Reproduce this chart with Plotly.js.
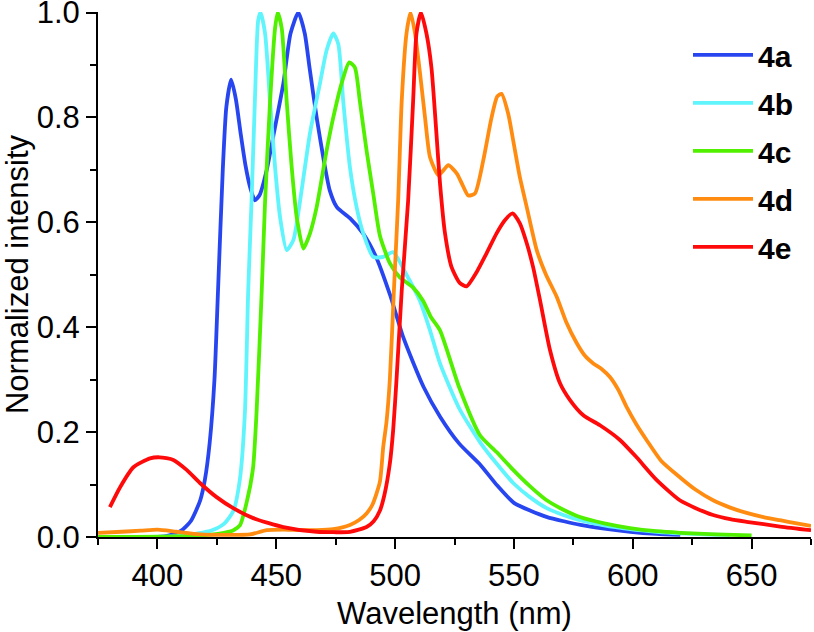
<!DOCTYPE html>
<html>
<head>
<meta charset="utf-8">
<script src="https://cdn.plot.ly/plotly-3.0.1.min.js"></script>
<style>
  body { margin: 0; background: #fff; }
  #plot { width: 814px; height: 632px; }
</style>
</head>
<body>
<div id="plot"></div>
<script>
// emission spectra (wavelength nm / normalized intensity)
var names = ['4a', '4b', '4c', '4d', '4e'];
var colors = ['#2846f0', '#60f4fc', '#50f000', '#ff8c10', '#ff0a0a'];

var x4a = [375, 400, 405, 410, 414, 418, 420, 422, 424, 425.5, 427.5, 429, 431, 433, 435, 437, 439, 441, 443, 446, 449, 453, 456, 459.3, 462, 464, 467, 470, 472.5, 475.5, 481, 486.5, 492, 498, 503.5, 512, 519, 527, 536, 543, 550, 557, 564, 571, 578, 588, 599, 610, 620];
var y4a = [0, 0, 0.003, 0.012, 0.03, 0.07, 0.11, 0.18, 0.30, 0.47, 0.70, 0.82, 0.872, 0.835, 0.77, 0.71, 0.667, 0.642, 0.652, 0.70, 0.77, 0.865, 0.96, 1.0, 0.96, 0.895, 0.80, 0.718, 0.661, 0.629, 0.608, 0.579, 0.534, 0.46, 0.38, 0.286, 0.229, 0.178, 0.137, 0.098, 0.065, 0.05, 0.038, 0.03, 0.023, 0.016, 0.01, 0.006, 0.004];

var x4b = [375, 410, 423, 428, 432, 434.7, 436.8, 438.2, 439.6, 441, 442.4, 443.4, 445.3, 447.4, 449.5, 451.6, 454.4, 457.2, 460, 464.2, 468.4, 471.2, 474, 476.1, 478.2, 481, 483.8, 486.6, 490.8, 495, 499.2, 504.8, 510.4, 514.7, 518.9, 527, 535.7, 542.7, 549.7, 556.7, 563.8, 570.8, 577.8, 588, 598.8, 610, 620, 630, 641];
var y4b = [0, 0.002, 0.013, 0.025, 0.05, 0.11, 0.236, 0.47, 0.64, 0.83, 0.985, 1.0, 0.96, 0.83, 0.705, 0.61, 0.547, 0.566, 0.64, 0.77, 0.865, 0.928, 0.96, 0.94, 0.83, 0.705, 0.629, 0.579, 0.534, 0.534, 0.543, 0.50, 0.451, 0.394, 0.331, 0.245, 0.181, 0.14, 0.103, 0.076, 0.055, 0.042, 0.032, 0.022, 0.015, 0.01, 0.007, 0.005, 0.004];

var x4c = [375, 415, 428, 432, 434.7, 437.5, 440.2, 441.7, 443.9, 445.3, 447.4, 449.5, 450.6, 452.3, 454.4, 456.5, 458.6, 461.4, 464.2, 467, 471.2, 474, 477.5, 480.7, 483.1, 485.2, 488, 490.8, 493.6, 497.8, 502, 507.5, 511.7, 515, 518.9, 527, 535.7, 542.7, 549.7, 556.7, 563.8, 570.8, 577.8, 588, 598.8, 610, 620, 635, 650];
var y4c = [0, 0.002, 0.008, 0.013, 0.022, 0.065, 0.13, 0.236, 0.47, 0.64, 0.83, 0.97, 1.0, 0.97, 0.83, 0.705, 0.61, 0.55, 0.579, 0.629, 0.737, 0.80, 0.865, 0.905, 0.895, 0.83, 0.737, 0.655, 0.575, 0.522, 0.495, 0.476, 0.451, 0.42, 0.394, 0.285, 0.194, 0.162, 0.128, 0.097, 0.07, 0.052, 0.038, 0.026, 0.017, 0.011, 0.008, 0.005, 0.003];

var x4d = [375, 385, 393, 400, 408, 418, 430, 439, 446, 453, 460, 467, 474, 481, 485, 488, 490.5, 493.6, 495, 496.4, 497.8, 499.5, 501.3, 502.8, 504.8, 506.5, 508.4, 510.5, 512.6, 514.7, 518.2, 520.5, 522.4, 526, 528.5, 530.8, 533.6, 537.1, 540.6, 543, 544.8, 547.6, 549.7, 552.5, 555.4, 559.6, 563.5, 568, 572, 576.4, 580, 583.4, 587, 590.4, 594, 597.4, 601.5, 605.8, 612, 619.8, 626.5, 633.8, 641, 647.9, 655, 661.9, 669, 675];
var y4d = [0.008, 0.01, 0.012, 0.014, 0.01, 0.005, 0.004, 0.005, 0.013, 0.014, 0.013, 0.013, 0.015, 0.023, 0.033, 0.045, 0.062, 0.105, 0.171, 0.22, 0.30, 0.47, 0.642, 0.832, 0.96, 1.0, 0.96, 0.884, 0.80, 0.724, 0.69, 0.70, 0.709, 0.693, 0.67, 0.651, 0.655, 0.718, 0.80, 0.84, 0.845, 0.807, 0.756, 0.686, 0.629, 0.547, 0.50, 0.458, 0.41, 0.37, 0.345, 0.331, 0.32, 0.305, 0.28, 0.248, 0.215, 0.185, 0.145, 0.114, 0.09, 0.07, 0.056, 0.046, 0.038, 0.032, 0.026, 0.021];

var x4e = [380, 384.3, 389.9, 396.9, 401, 406.7, 412.3, 417.9, 424.9, 431.9, 440.3, 453, 467, 481, 488, 491, 493.6, 495.5, 497.8, 499.2, 500.6, 502.8, 505.5, 507.6, 509, 510.9, 513.2, 515.3, 517.4, 518.9, 521, 523.8, 527.3, 530.1, 534.3, 538.5, 542.7, 546.2, 549.4, 552.5, 555.4, 558.1, 561, 565.2, 569.4, 573.6, 579.2, 586.2, 594.6, 601.6, 610, 619.8, 626.5, 633.8, 641, 647.9, 662, 675];
var y4e = [0.057, 0.095, 0.133, 0.15, 0.152, 0.147, 0.128, 0.103, 0.076, 0.055, 0.036, 0.019, 0.01, 0.01, 0.019, 0.03, 0.05, 0.08, 0.14, 0.204, 0.30, 0.47, 0.642, 0.832, 0.96, 1.0, 0.96, 0.895, 0.769, 0.674, 0.579, 0.514, 0.484, 0.478, 0.505, 0.541, 0.579, 0.604, 0.617, 0.598, 0.56, 0.514, 0.451, 0.356, 0.293, 0.261, 0.232, 0.213, 0.185, 0.152, 0.109, 0.07, 0.055, 0.042, 0.034, 0.029, 0.02, 0.013];

var xs = [x4a, x4b, x4c, x4d, x4e];
var ys = [y4a, y4b, y4c, y4d, y4e];

var fontFam = '"Liberation Sans", Arial, sans-serif';

var traces = [];
for (var i = 0; i < names.length; i++) {
  traces.push({
    x: xs[i],
    y: ys[i],
    name: names[i],
    legendgroup: names[i],
    type: 'scatter',
    mode: 'lines',
    line: {color: colors[i], width: 3.8, shape: 'spline', smoothing: 0.6}
  });
}

var axisStyle = {
  showline: true,
  linecolor: '#000',
  linewidth: 2,
  ticks: 'outside',
  ticklen: 10,
  tickwidth: 2,
  tickcolor: '#000',
  showgrid: false,
  zeroline: false,
  ticklabeloverflow: 'allow',
  tickfont: {family: fontFam, size: 31, color: '#000'}
};

var layout = {
  width: 814,
  height: 632,
  margin: {l: 98, r: 3, t: 12, b: 95},
  paper_bgcolor: '#fff',
  plot_bgcolor: '#fff',
  font: {family: fontFam, color: '#000'},
  xaxis: Object.assign({}, axisStyle, {
    range: [375, 675],
    dtick: 50,
    minor: {dtick: 25, ticks: 'outside', ticklen: 6, tickwidth: 2, tickcolor: '#000'},
    title: {text: 'Wavelength (nm)', font: {family: fontFam, size: 31, color: '#000'}, standoff: 10}
  }),
  yaxis: Object.assign({}, axisStyle, {
    range: [0, 1.001],
    dtick: 0.2,
    tickformat: '.1f',
    minor: {dtick: 0.1, ticks: 'outside', ticklen: 6, tickwidth: 2, tickcolor: '#000'},
    title: {text: 'Normalized intensity', font: {family: fontFam, size: 31, color: '#000'}, standoff: 2}
  }),
  showlegend: true,
  legend: {
    x: 0.8275,
    y: 0.968,
    xanchor: 'left',
    yanchor: 'top',
    bgcolor: 'rgba(0,0,0,0)',
    itemwidth: 60,
    tracegroupgap: 6,
    font: {family: fontFam, size: 30, weight: 'bold', color: '#000'}
  }
};

Plotly.newPlot('plot', traces, layout, {displayModeBar: false, staticPlot: true});
</script>
</body>
</html>
